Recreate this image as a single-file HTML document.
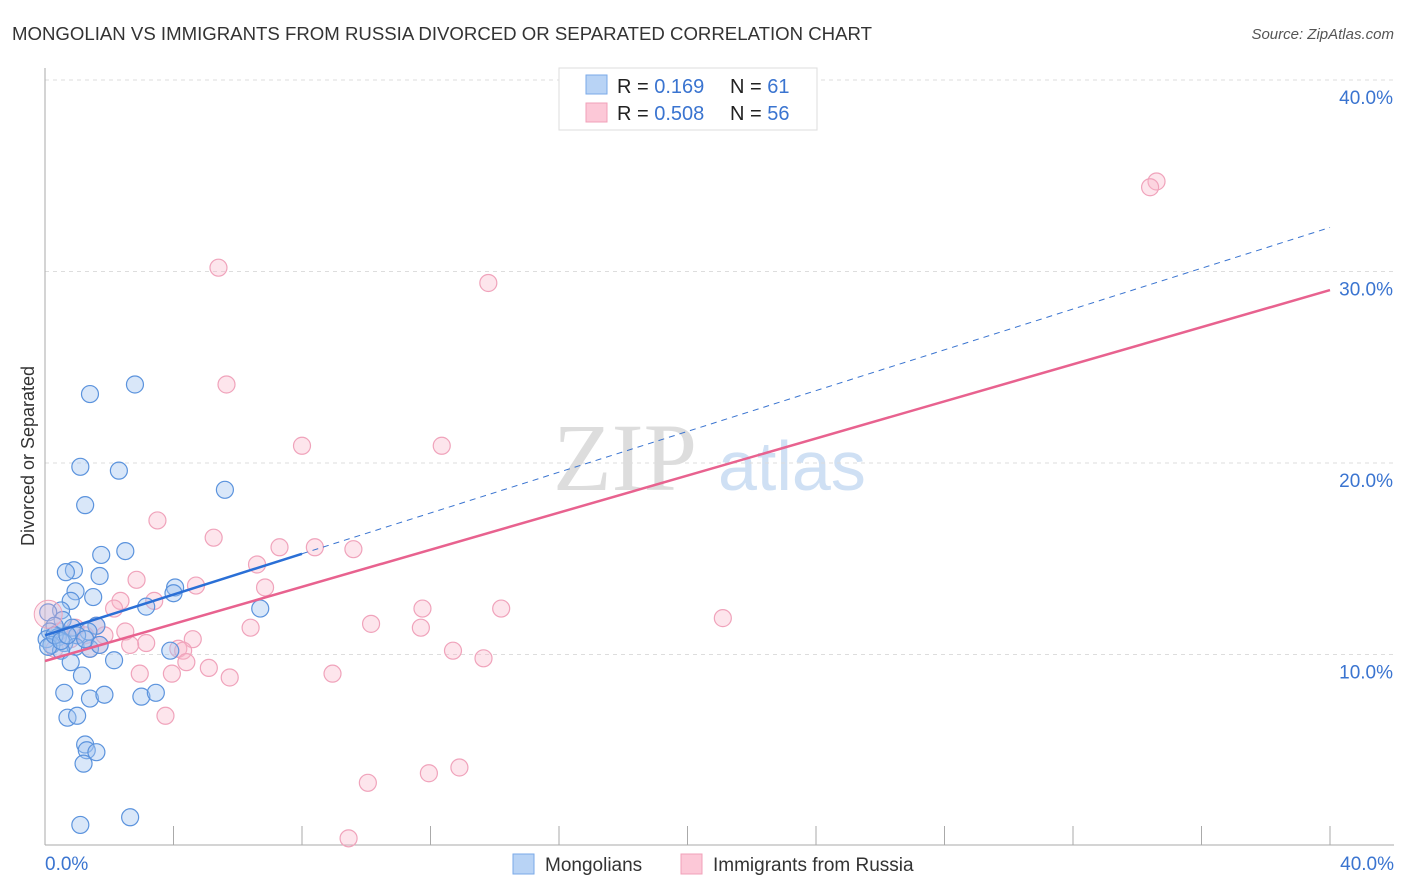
<!DOCTYPE html>
<html><head><meta charset="utf-8"><style>
body{margin:0;background:#fff;font-family:"Liberation Sans",sans-serif;}
svg{display:block}
</style></head><body>
<svg id="chart" width="1406" height="892" xmlns="http://www.w3.org/2000/svg">
<text x="12" y="40" font-size="18" fill="#333" textLength="860" lengthAdjust="spacingAndGlyphs">MONGOLIAN VS IMMIGRANTS FROM RUSSIA DIVORCED OR SEPARATED CORRELATION CHART</text>
<text x="1394" y="39" font-size="15" fill="#555" font-style="italic" text-anchor="end">Source: ZipAtlas.com</text>
<g>
<text x="553" y="490" font-size="96" fill="#ddd" font-family="Liberation Serif,serif">ZIP</text>
<text x="718" y="490" font-size="70" fill="#cfe0f4">atlas</text>
</g>
<g id="grid"></g>
<g id="axes"></g>
<text x="34" y="456" font-size="18" fill="#333" text-anchor="middle" transform="rotate(-90 34 456)">Divorced or Separated</text>
<g id="pts"></g>
<g id="lines"></g>
<g>
<rect x="559" y="68" width="258" height="62" fill="#fff" stroke="#ddd"/>
<rect x="586" y="75" width="21" height="19" fill="#b8d3f5" stroke="#7aaae8"/>
<rect x="586" y="103" width="21" height="19" fill="#fcc8d7" stroke="#f1a0b8"/>
<text x="617" y="93" font-size="20" fill="#222">R =  <tspan fill="#3a74d0">0.169</tspan></text>
<text x="730" y="93" font-size="20" fill="#222">N =  <tspan fill="#3a74d0">61</tspan></text>
<text x="617" y="120" font-size="20" fill="#222">R = <tspan fill="#3a74d0">0.508</tspan></text>
<text x="730" y="120" font-size="20" fill="#222">N = <tspan fill="#3a74d0">56</tspan></text>
</g>
<g>
<rect x="513" y="854" width="21" height="20" fill="#b8d3f5" stroke="#7aaae8"/>
<text x="545" y="871" font-size="19" fill="#333">Mongolians</text>
<rect x="681" y="854" width="21" height="20" fill="#fcc8d7" stroke="#f1a0b8"/>
<text x="713" y="871" font-size="19" fill="#333">Immigrants from Russia</text>
</g>
</svg>
<script>
const xTicks=[0,4,8,12,16,20,24,28,32,36,40];
const yTicks=[10,20,30,40];
const mongX=[1.4,2.8,1.1,2.3,1.25,5.6,1.75,2.5,0.9,0.65,1.7,0.95,4.05,4.0,1.5,0.8,3.15,6.7,0.5,0.1,0.55,1.6,0.3,0.85,0.15,1.35,1.0,0.4,0.05,0.6,0.2,0.95,1.4,0.5,3.9,0.1,0.8,2.15,1.15,0.6,1.4,1.85,3.0,3.45,0.7,1.0,1.25,1.3,1.6,1.2,1.1,2.65,0.3,0.5,0.7,1.25,1.7];
const mongY=[23.6,24.1,19.8,19.6,17.8,18.6,15.2,15.4,14.4,14.3,14.1,13.3,13.5,13.2,13.0,12.8,12.5,12.4,12.3,12.2,11.8,11.5,11.5,11.4,11.2,11.2,11.0,10.9,10.8,10.6,10.5,10.4,10.3,10.2,10.2,10.4,9.6,9.7,8.9,8.0,7.7,7.9,7.8,8.0,6.7,6.8,5.3,5.0,4.9,4.3,1.1,1.5,11.0,10.7,11.0,10.8,10.5];
const rusX=[34.6,34.4,5.4,13.8,5.65,8.0,12.35,3.5,5.25,7.3,8.4,9.6,6.6,2.85,4.7,6.85,2.35,3.4,2.15,11.75,14.2,21.1,10.15,6.4,11.7,1.6,2.5,1.85,1.25,0.45,4.6,3.15,2.65,4.15,4.3,12.7,4.4,13.65,5.1,2.95,3.95,8.95,5.75,3.75,12.9,11.95,10.05,9.45,0.8,0.3,0.95,1.7,1.4];
const rusY=[34.7,34.4,30.2,29.4,24.1,20.9,20.9,17.0,16.1,15.6,15.6,15.5,14.7,13.9,13.6,13.5,12.8,12.8,12.4,12.4,12.4,11.9,11.6,11.4,11.4,11.5,11.2,11.0,11.0,11.2,10.8,10.6,10.5,10.3,10.2,10.2,9.6,9.8,9.3,9.0,9.0,9.0,8.8,6.8,4.1,3.8,3.3,0.4,10.8,10.3,11.4,10.5,10.3];
const mongTrend=[11.0,32.3];
const rusTrend=[9.66,29.03];
const sx=v=>45+v*32.125;
const sy=v=>846-v*19.15;
const NS="http://www.w3.org/2000/svg";
function mk(tag,attrs,parent){const e=document.createElementNS(NS,tag);for(const k in attrs)e.setAttribute(k,attrs[k]);parent.appendChild(e);return e;}
const grid=document.getElementById('grid'),axes=document.getElementById('axes'),pts=document.getElementById('pts'),lines=document.getElementById('lines');
yTicks.forEach(t=>{
 const l=mk('line',{x1:45,x2:1394,y1:sy(t),y2:sy(t),stroke:'#ddd','stroke-dasharray':'4,4'},grid);
 
 
 const tx=mk('text',{x:1393,y:sy(t)+24,'font-size':19,fill:'#3a74d0','text-anchor':'end'},axes);
 tx.textContent=t.toFixed(1)+'%';
 
 
});
const ax=mk('line',{x1:45,x2:1394,y1:845,y2:845,stroke:'#aaa'},axes);


const ay=mk('line',{x1:45,x2:45,y1:68,y2:845,stroke:'#aaa'},axes);


xTicks.forEach(t=>{
 const l=mk('line',{x1:sx(t),x2:sx(t),y1:826,y2:845,stroke:'#aaa'},axes);
 
 
});
[[0,'start',45],[40,'end',1394]].forEach(([t,a,x])=>{
 const tx=mk('text',{x:x,y:870,'font-size':19,fill:'#3a74d0','text-anchor':a},axes);
 tx.textContent=t.toFixed(1)+'%';
 
 
});
rusX.forEach((x,i)=>{
 const c=mk('circle',{cx:sx(x),cy:sy(rusY[i]),r:8.5,fill:'rgba(249,180,200,0.35)',stroke:'#f0a3bb','stroke-width':1.2},pts);
 
 
});
mongX.forEach((x,i)=>{
 const c=mk('circle',{cx:sx(x),cy:sy(mongY[i]),r:8.5,fill:'rgba(160,196,240,0.4)',stroke:'#5b93dd','stroke-width':1.2},pts);
 
 
});
const big=mk('circle',{cx:sx(0.1),cy:sy(12.1),r:14,fill:'rgba(249,180,200,0.3)',stroke:'#f0a3bb'},pts);


const my=x=>mongTrend[0]+(mongTrend[1]-mongTrend[0])*x/40;
const ry=x=>rusTrend[0]+(rusTrend[1]-rusTrend[0])*x/40;
const l1=mk('line',{x1:sx(0),y1:sy(ry(0)),x2:sx(40),y2:sy(ry(40)),stroke:'#e8628f','stroke-width':2.5},lines);


const l2=mk('line',{x1:sx(8),y1:sy(my(8)),x2:sx(40),y2:sy(my(40)),stroke:'#3a74d0','stroke-width':1,'stroke-dasharray':'6,5'},lines);


const l3=mk('line',{x1:sx(0),y1:sy(my(0)),x2:sx(8),y2:sy(my(8)),stroke:'#2a6fd6','stroke-width':2.5},lines);


</script>
</body></html>
